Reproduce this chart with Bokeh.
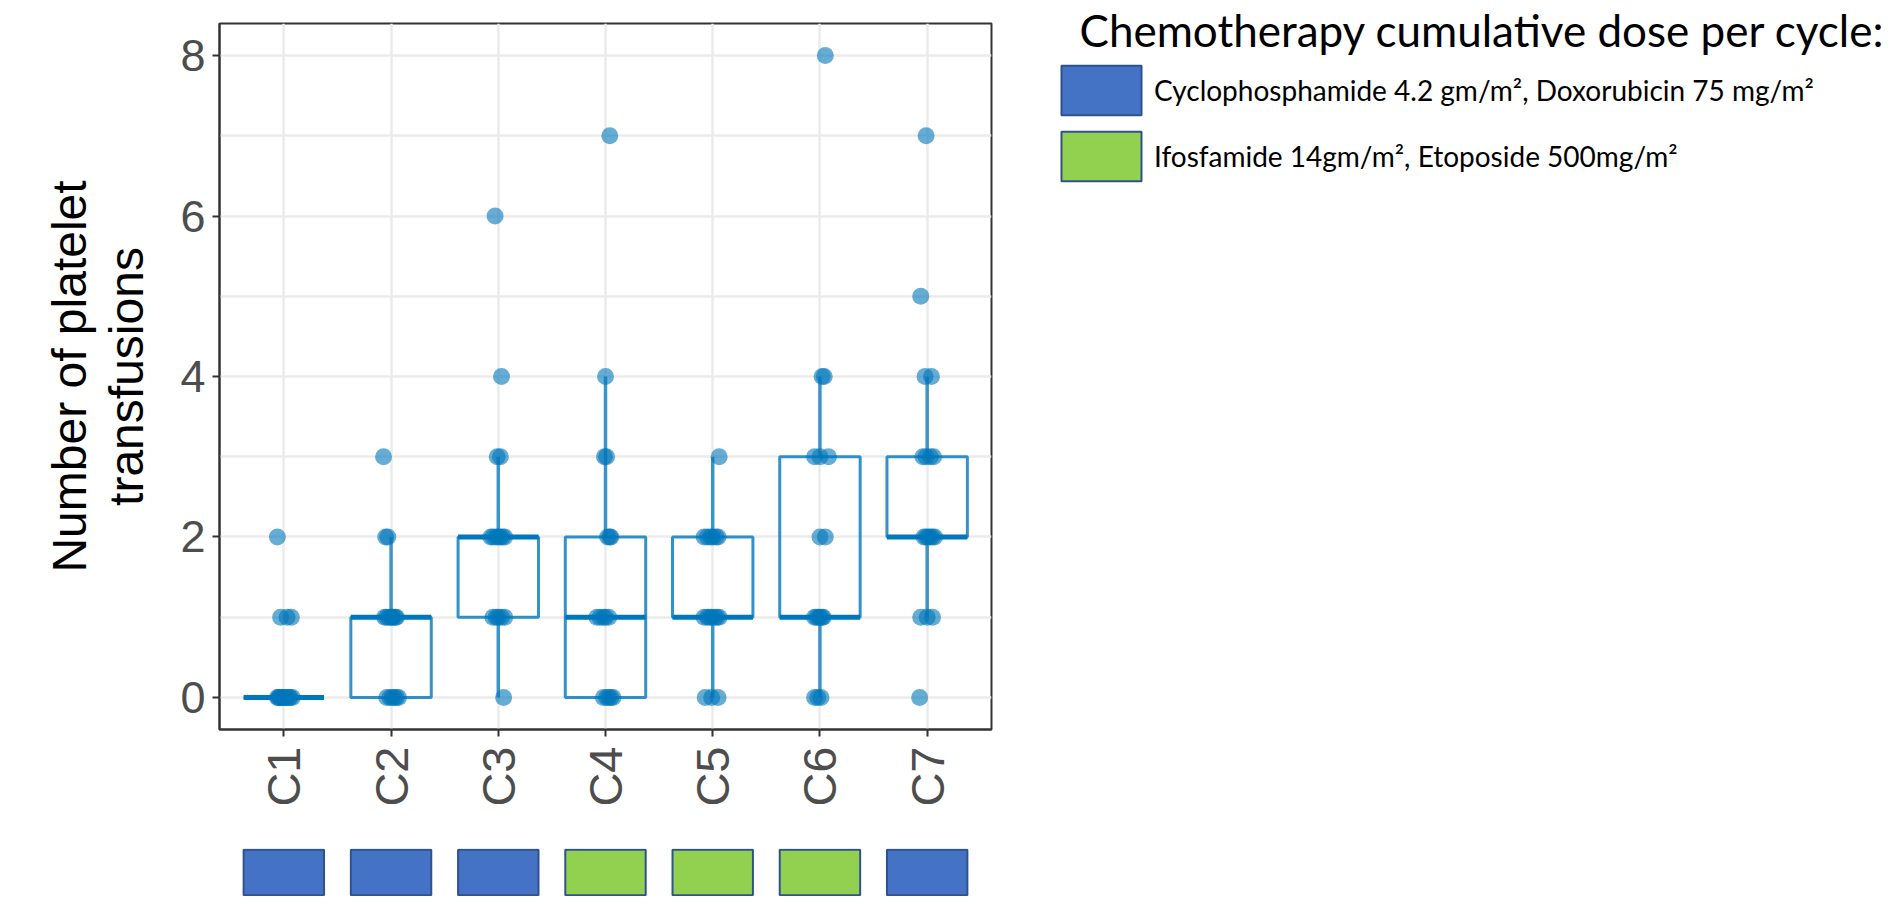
import math
from bokeh.plotting import figure
from bokeh.models import (Range1d, FixedTicker, ColumnDataSource, Legend, LegendItem, Label)
from bokeh.layouts import row, column
from bokeh.embed import file_html
from bokeh.resources import INLINE

# ---------------- data ----------------
cycles = ["C1", "C2", "C3", "C4", "C5", "C6", "C7"]
cycle_regimen = ["A", "A", "A", "B", "B", "B", "A"]
regimen_keys = ["A", "B"]
regimen_labels = ["Cyclophosphamide 4.2 gm/m\u00b2, Doxorubicin 75 mg/m\u00b2",
                  "Ifosfamide 14gm/m\u00b2, Etoposide 500mg/m\u00b2"]
legend_title = "Chemotherapy cumulative dose per cycle:"

# box statistics
q1 = [0, 0, 1, 0, 1, 1, 2]
median = [0, 1, 2, 1, 1, 1, 2]
q3 = [0, 1, 2, 2, 2, 3, 3]
whisker_low = [0, 0, 0, 0, 0, 0, 1]
whisker_high = [0, 2, 3, 4, 3, 4, 4]

# individual patients (values) and their horizontal jitter
c1_values = [0, 0, 0, 0, 0, 0, 0, 0, 0, 0, 0, 0, 0, 1, 1, 1, 2]
c1_jitter = [-0.06, -0.05, -0.04, -0.03, -0.02, -0.01, 0.0, 0.01, 0.02, 0.03, 0.05, 0.06, 0.08,
             -0.03, 0.03, 0.07, -0.06]
c2_values = [0, 0, 0, 0, 0, 0, 1, 1, 1, 1, 1, 1, 1, 1, 2, 2, 3]
c2_jitter = [-0.04, -0.01, 0.01, 0.03, 0.05, 0.07,
             -0.06, -0.04, -0.02, 0.0, 0.01, 0.02, 0.04, 0.05, -0.05, -0.03, -0.07]
c3_values = [0, 1, 1, 1, 1, 1, 2, 2, 2, 2, 2, 2, 2, 3, 3, 4, 6]
c3_jitter = [0.05, -0.05, -0.02, 0.0, 0.03, 0.06,
             -0.07, -0.05, -0.02, 0.0, 0.02, 0.04, 0.06, -0.01, 0.02, 0.03, -0.03]
c4_values = [0, 0, 0, 0, 0, 1, 1, 1, 1, 1, 2, 2, 2, 3, 3, 4, 7]
c4_jitter = [-0.02, 0.01, 0.03, 0.05, 0.07, -0.08, -0.05, -0.02, 0.0, 0.03,
             0.02, 0.04, 0.05, -0.01, 0.01, 0.0, 0.04]
c5_values = [0, 0, 0, 1, 1, 1, 1, 1, 1, 1, 2, 2, 2, 2, 2, 2, 3]
c5_jitter = [-0.07, -0.01, 0.05, -0.08, -0.05, -0.03, -0.01, 0.02, 0.04, 0.06,
             -0.08, -0.05, -0.02, 0.0, 0.03, 0.05, 0.06]
c6_values = [0, 0, 0, 1, 1, 1, 1, 1, 1, 2, 2, 3, 3, 3, 4, 4, 8]
c6_jitter = [-0.05, -0.02, 0.01, -0.05, -0.03, -0.01, 0.0, 0.02, 0.03,
             0.0, 0.05, -0.05, 0.0, 0.08, 0.02, 0.04, 0.05]
c7_values = [0, 1, 1, 1, 2, 2, 2, 2, 2, 2, 3, 3, 3, 3, 4, 4, 5, 7]
c7_jitter = [-0.07, -0.06, 0.0, 0.05, -0.03, -0.01, 0.01, 0.03, 0.05, 0.07,
             -0.04, -0.01, 0.03, 0.06, -0.02, 0.04, -0.06, -0.01]

y_ticks = [0, 2, 4, 6, 8]
y_minor_ticks = [1, 3, 5, 7]
y_title = "Number of platelet\ntransfusions"

# ---------------- styles ----------------
POINT = "#0077BB"
GRID = "#ebebeb"
FRAME = "#333333"
TICKTXT = "#4d4d4d"
REG_COLORS = {"A": "#4472C4", "B": "#92D050"}
REG_EDGE = "#2F528F"
AX_FONT = "Liberation Sans"
LEG_FONT = "Lato"

xpos = list(range(1, len(cycles) + 1))
x_range = Range1d(0.4, len(cycles) + 0.6)

all_vals = [c1_values, c2_values, c3_values, c4_values, c5_values, c6_values, c7_values]
all_jit = [c1_jitter, c2_jitter, c3_jitter, c4_jitter, c5_jitter, c6_jitter, c7_jitter]
px, py = [], []
for i, (vals, jit) in enumerate(zip(all_vals, all_jit)):
    for v, j in zip(vals, jit):
        px.append(xpos[i] + j)
        py.append(v)

box_src = ColumnDataSource(dict(x=xpos, q1=q1, med=median, q3=q3,
                                lo=whisker_low, hi=whisker_high,
                                ml=[x - 0.375 for x in xpos], mr=[x + 0.375 for x in xpos]))
pt_src = ColumnDataSource(dict(x=px, y=py))

# ---------------- main figure ----------------
p = figure(frame_width=772, frame_height=706, x_range=x_range, y_range=Range1d(-0.4, 8.4),
           output_backend="svg", toolbar_location=None,
           min_border_left=219, min_border_top=23, min_border_right=20, min_border_bottom=106)
p.title = None
p.background_fill_color = "white"
p.border_fill_color = "white"
p.outline_line_color = FRAME
p.outline_line_width = 2

p.xaxis.ticker = FixedTicker(ticks=xpos)
p.xaxis.major_label_overrides = {x: c for x, c in zip(xpos, cycles)}
p.yaxis.ticker = FixedTicker(ticks=y_ticks, minor_ticks=y_minor_ticks)
p.xgrid.ticker = FixedTicker(ticks=xpos)

for ax in (p.xaxis[0], p.yaxis[0]):
    ax.axis_line_color = FRAME
    ax.axis_line_width = 2
    ax.major_tick_line_color = FRAME
    ax.major_tick_line_width = 2
    ax.major_tick_out = 7
    ax.major_tick_in = 0
    ax.minor_tick_line_color = None
    ax.major_label_text_font = AX_FONT
    ax.major_label_text_color = TICKTXT
p.yaxis.major_label_text_font_size = "45px"
p.xaxis.major_label_text_font_size = "47px"
p.xaxis.major_label_orientation = math.pi / 2
p.xaxis.major_label_standoff = 10
p.yaxis.major_label_standoff = 7
p.yaxis.axis_label = y_title
p.yaxis.axis_label_text_font = AX_FONT
p.yaxis.axis_label_text_font_size = "48px"
p.yaxis.axis_label_text_font_style = "normal"
p.yaxis.axis_label_text_color = "black"
p.yaxis.axis_label_text_line_height = 1.08
p.yaxis.axis_label_standoff = 24

p.xgrid.grid_line_color = GRID
p.xgrid.grid_line_width = 2.5
p.ygrid.grid_line_color = GRID
p.ygrid.grid_line_width = 2.5
p.ygrid.minor_grid_line_color = GRID
p.ygrid.minor_grid_line_width = 2.5

# whiskers
p.segment(x0="x", y0="q3", x1="x", y1="hi", source=box_src, line_color=POINT, line_width=3.5, line_alpha=0.75)
p.segment(x0="x", y0="lo", x1="x", y1="q1", source=box_src, line_color=POINT, line_width=3.5, line_alpha=0.75)
# boxes
p.vbar(x="x", bottom="q1", top="q3", width=0.75, source=box_src, fill_color=None,
       line_color=POINT, line_width=3, line_alpha=0.8)
# medians
p.segment(x0="ml", y0="med", x1="mr", y1="med", source=box_src, line_color=POINT, line_width=5)
# points
p.scatter(x="x", y="y", source=pt_src, size=17, fill_color=POINT, fill_alpha=0.6, line_color=None)

# ---------------- regimen strip ----------------
strip_src = ColumnDataSource(dict(x=xpos, color=[REG_COLORS[r] for r in cycle_regimen]))
s = figure(frame_width=772, frame_height=48, x_range=x_range, y_range=Range1d(-0.03, 1.03),
           output_backend="svg", toolbar_location=None, x_axis_location=None, y_axis_location=None,
           min_border_left=219, min_border_top=13, min_border_right=20, min_border_bottom=0)
s.title = None
s.outline_line_color = None
s.grid.visible = False
s.vbar(x="x", bottom=0, top=1, width=0.75, source=strip_src, fill_color="color",
       line_color=REG_EDGE, line_width=2)

# ---------------- legend panel ----------------
LH = 200
leg = figure(width=880, height=LH, x_range=Range1d(0, 1), y_range=Range1d(0, 1),
             output_backend="svg", toolbar_location=None, x_axis_location=None, y_axis_location=None,
             min_border=0)
leg.title = None
leg.outline_line_color = None
leg.grid.visible = False
items = []
for key, lab in zip(regimen_keys, regimen_labels):
    r = leg.quad(left=[float("nan")], right=[float("nan")], top=[float("nan")], bottom=[float("nan")],
                 fill_color=REG_COLORS[key], line_color=REG_EDGE, line_width=2)
    items.append(LegendItem(label=lab, renderers=[r]))
legend = Legend(items=items, location=(40, 13), glyph_width=100, glyph_height=62,
                spacing=4, label_standoff=3, padding=0, margin=0,
                border_line_color=None, background_fill_alpha=0,
                label_text_font=LEG_FONT, label_text_font_size="28px", label_text_color="black")
leg.add_layout(legend)
leg.add_layout(Label(x=68, y=LH - 29, x_units="screen", y_units="screen", text=legend_title,
                     text_font=LEG_FONT, text_font_size="44px", text_color="black",
                     text_baseline="alphabetic"))

layout = row(column(p, s), leg)
open("out.html", "w").write(file_html(layout, INLINE))
